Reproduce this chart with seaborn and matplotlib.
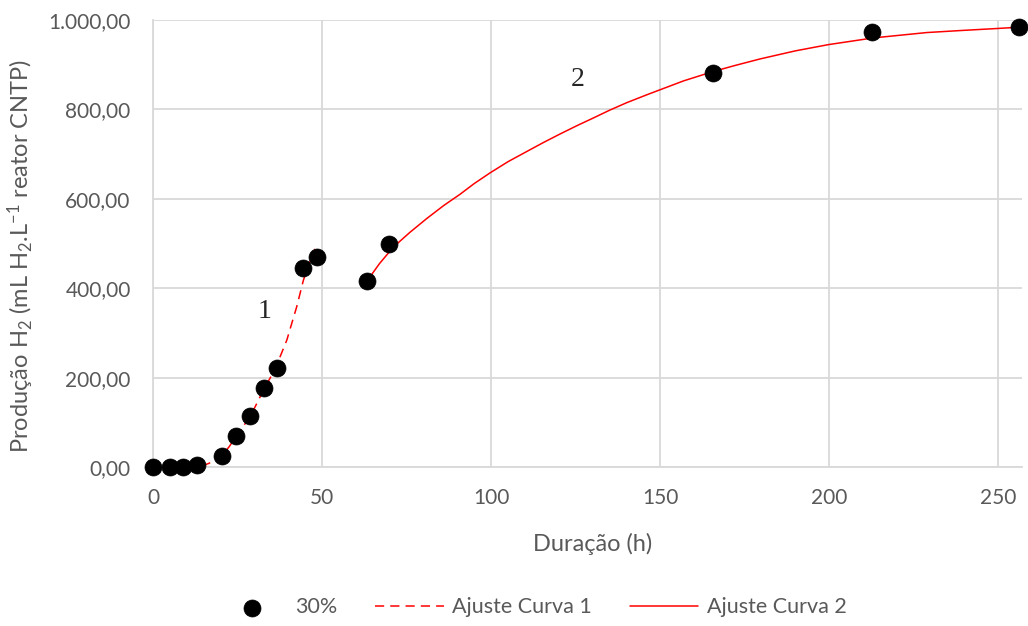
import matplotlib
matplotlib.use("Agg")
import matplotlib.pyplot as plt
import matplotlib.ticker as mticker
import seaborn as sns

# Pontos experimentais (30%)
duracao = [0.0, 5.0, 8.9, 13.0, 20.4, 24.6, 28.7, 32.8, 36.7, 44.4, 48.5,
           63.3, 69.8, 165.7, 212.7, 256.2]
producao = [0.0, 0.0, 1.0, 4.0, 25.0, 70.0, 114.0, 177.0, 221.0, 445.0, 470.0,
            416.0, 499.0, 881.0, 973.0, 984.0]

# Ajuste curva 1
curva1_x = [14.4, 16.5, 18.5, 20.3, 22.5, 24.6, 26.8, 28.9, 30.9, 32.8, 35.1,
            37.4, 39.6, 41.0, 42.5, 44.5, 46.2, 47.9]
curva1_y = [2.0, 8.0, 16.0, 25.0, 45.0, 68.0, 92.0, 115.0, 145.0, 174.0,
            205.0, 243.0, 284.0, 320.0, 358.0, 418.0, 455.0, 488.0]

# Ajuste curva 2
curva2_x = [63.3, 67.0, 71.1, 76.0, 81.0, 86.0, 90.8, 95.0, 99.7, 105.0,
            110.6, 115.5, 120.4, 125.5, 130.3, 135.0, 140.1, 146.5, 150.0,
            157.0, 165.8, 172.0, 179.6, 190.0, 199.8, 206.0, 213.1, 221.0,
            228.9, 240.0, 249.6, 256.2]
curva2_y = [416.0, 455.0, 492.0, 525.0, 556.0, 585.0, 610.0, 634.0, 658.0,
            683.0, 706.0, 726.0, 745.0, 764.0, 781.0, 798.0, 815.0, 834.0,
            844.0, 864.0, 885.0, 898.0, 913.0, 931.0, 945.0, 952.0, 960.0,
            966.0, 972.0, 977.0, 981.0, 984.0]

sns.set_style("whitegrid")
plt.rcParams["font.family"] = ["Lato", "DejaVu Sans"]
plt.rcParams["mathtext.default"] = "regular"

cinza_texto = "#595959"
cinza_grade = "#d9d9d9"

fig = plt.figure(figsize=(10.28, 6.26), dpi=100)
ax = fig.add_axes([0.1488, 0.254, 0.8452, 0.714])

sns.lineplot(x=curva1_x, y=curva1_y, ax=ax, color="#ff0000", linewidth=1.1,
             linestyle=(0, (6, 4)), estimator=None, sort=False,
             label="Ajuste Curva 1", zorder=2)
sns.lineplot(x=curva2_x, y=curva2_y, ax=ax, color="#ff0000", linewidth=1.1,
             estimator=None, sort=False, label="Ajuste Curva 2", zorder=2)
sns.scatterplot(x=duracao, y=producao, ax=ax, color="black", s=150,
                edgecolor="black", linewidth=0.5, label="30%", zorder=3,
                clip_on=False)

ax.set_xlim(0, 257)
ax.set_ylim(0, 1000)
ax.set_xticks([0, 50, 100, 150, 200, 250])
ax.set_yticks([0, 200, 400, 600, 800, 1000])


def fmt_br(v, pos):
    s = f"{v:,.2f}"
    return s.replace(",", "X").replace(".", ",").replace("X", ".")


ax.yaxis.set_major_formatter(mticker.FuncFormatter(fmt_br))
ax.tick_params(axis="both", labelsize=15, colors=cinza_texto, length=0)
ax.tick_params(axis="y", pad=16)
ax.tick_params(axis="x", pad=15)
ax.grid(True, color=cinza_grade, linewidth=1.3)
for lado in ["top", "right"]:
    ax.spines[lado].set_visible(False)
for lado in ["left", "bottom"]:
    ax.spines[lado].set_color(cinza_grade)
    ax.spines[lado].set_linewidth(1.3)

ax.set_xlabel("Duração (h)", fontsize=17, color=cinza_texto)
ax.set_ylabel("Produção H$_2$ (mL H$_2$.L$^{-1}$ reator CNTP)", fontsize=17,
              color=cinza_texto)
ax.xaxis.set_label_coords(0.506, -0.148)
ax.yaxis.set_label_coords(-0.135, 0.472)

ax.text(33.1, 348, "1", fontsize=20, family="Liberation Serif", ha="center",
        va="center")
ax.text(125.7, 868, "2", fontsize=20, family="Liberation Serif", ha="center",
        va="center")

handles, labels = ax.get_legend_handles_labels()
ordem = [labels.index(n) for n in ["30%", "Ajuste Curva 1", "Ajuste Curva 2"]]
ax.get_legend().remove()
leg = fig.legend([handles[i] for i in ordem], [labels[i] for i in ordem],
                 loc="center", bbox_to_anchor=(0.5175, 0.03), ncol=3,
                 frameon=False, fontsize=15.5, handlelength=3.2,
                 columnspacing=1.75, handletextpad=0.4)
for t in leg.get_texts():
    t.set_color(cinza_texto)

fig.savefig("out.png", dpi=100)
